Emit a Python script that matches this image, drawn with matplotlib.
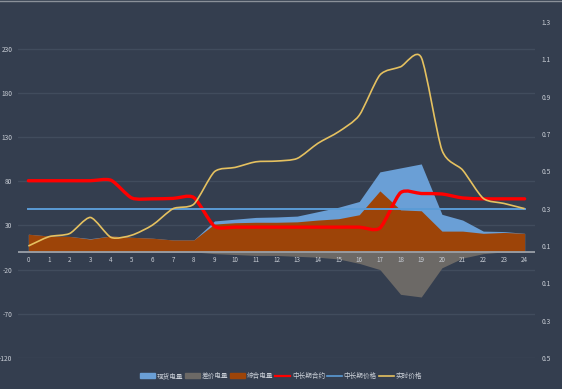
import matplotlib
matplotlib.use("Agg")
import matplotlib.pyplot as plt
from matplotlib.path import Path
from matplotlib.patches import PathPatch, Patch
from matplotlib.lines import Line2D
import numpy as np

plt.rcParams['font.family'] = ['Noto Sans CJK SC', 'DejaVu Sans']

# hourly data, 0..24
hours = list(range(25))
spot_qty = [20, 18, 17.5, 15, 18, 16.5, 15.5, 13.5, 13.5, 35, 37, 39, 39.5, 40.5, 45.5, 50.5,
            57, 90.5, 95, 99.5, 42.5, 36, 23.5, 23, 21]
diff_qty = [0, 0, 0, 0, 0, 0, 0, 0, 0, -2, -3, -4, -4, -5, -6, -8,
            -13, -20, -48, -51, -18, -7, -2, 0, 0]
total_qty = [20, 18, 17.5, 14.5, 18, 16.5, 15.5, 13.5, 13.5, 31.5, 33, 33.5, 33.5, 34, 36, 37.5,
             42, 69, 47.5, 46.5, 23.5, 23.5, 21, 22, 21]
contract_qty = [80.5, 80.5, 80.5, 80.5, 81, 61, 60, 60.5, 61.5, 29, 28, 28, 28, 28, 28, 28,
                28, 27, 67, 66, 65.5, 61, 60, 60, 60]
contract_price = [0.3] * 25
rt_price = [0.10, 0.15, 0.167, 0.253, 0.146, 0.158, 0.212, 0.30, 0.324, 0.498, 0.521, 0.551,
            0.555, 0.569, 0.65, 0.712, 0.80, 1.016, 1.06, 1.11, 0.614, 0.507, 0.355, 0.328, 0.30]

labels = ["现货电量", "差价电量", "综合电量", "中长期合约", "中长期价格", "实时价格"]
left_ticks = [-120, -70, -20, 30, 80, 130, 180, 230]
right_ticks = [-0.5, -0.3, -0.1, 0.1, 0.3, 0.5, 0.7, 0.9, 1.1, 1.3]

bg = '#343e4f'
grid_c = '#414c5d'
txt_c = '#c9ced6'
c_spot = '#6a9fd6'
c_diff = '#6c6966'
c_total = '#9d4408'
c_red = '#ff0000'
c_blue = '#5b9bd5'
c_yellow = '#e5c160'


# smooth line like excel (bezier through the points)
def smooth_path(x, y, k=0.12):
    pts = np.column_stack([x, y]).astype(float)
    n = len(pts)
    verts = [pts[0]]
    codes = [Path.MOVETO]
    for i in range(n - 1):
        p0 = pts[max(i - 1, 0)]
        p1 = pts[i]
        p2 = pts[i + 1]
        p3 = pts[min(i + 2, n - 1)]
        verts += [p1 + (p2 - p0) * k, p2 - (p3 - p1) * k, p2]
        codes += [Path.CURVE4] * 3
    return Path(verts, codes)


fig = plt.figure(figsize=(5.62, 3.89), dpi=100, facecolor=bg)
ax = fig.add_axes([18 / 562, 1 - 358 / 389, (535 - 18) / 562, (358 - 22) / 389])
ax.set_facecolor(bg)
ax2 = ax.twinx()

ax.fill_between(hours, 0, spot_qty, color=c_spot, lw=0, zorder=2)
ax.fill_between(hours, 0, diff_qty, color=c_diff, lw=0, zorder=2)
ax.fill_between(hours, 0, total_qty, color=c_total, lw=0, zorder=3)
ax.axhline(0, color='#9aa0a8', lw=1.3, zorder=4)
ax.add_patch(PathPatch(smooth_path(hours, contract_qty), fill=False, ec=c_red, lw=2.4,
                       capstyle='round', zorder=5))

ax2.plot(hours, contract_price, color=c_blue, lw=1.4, zorder=4)
ax2.add_patch(PathPatch(smooth_path(hours, rt_price), fill=False, ec=c_yellow, lw=1.2, zorder=5))

ax.set_xlim(-0.5, 24.5)
ax.set_ylim(-120, 260)
ax2.set_ylim(-0.5, 1.3)
ax.set_yticks(left_ticks)
ax.set_yticklabels([str(v) for v in left_ticks])
ax2.set_yticks(right_ticks)
ax2.set_yticklabels(['%.1f' % abs(v) for v in right_ticks])
ax.grid(axis='y', color=grid_c, lw=1.0)
ax.set_axisbelow(True)
ax.set_xticks([])

# hour labels sit just under the zero line
for h in hours:
    ax.text(h, -5, str(h), ha='center', va='top', fontsize=4.5, color=txt_c, zorder=6)

for a in (ax, ax2):
    for s in a.spines.values():
        s.set_visible(False)
    a.tick_params(length=0, labelsize=4.8, colors=txt_c)
ax.tick_params(axis='y', pad=4)
ax2.tick_params(axis='y', pad=5)

handles = [Patch(color=c_spot), Patch(color=c_diff), Patch(color=c_total),
           Line2D([], [], color=c_red, lw=1.6), Line2D([], [], color=c_blue, lw=1.2),
           Line2D([], [], color=c_yellow, lw=1.2)]
fig.legend(handles, labels, loc='center', bbox_to_anchor=(281 / 562, 1 - 376 / 389), ncol=6,
           frameon=False, fontsize=4.8, labelcolor=txt_c, handlelength=2.2, handleheight=0.8,
           handletextpad=0.3, columnspacing=0.3)

# thin frame line along the top edge
fig.add_artist(Line2D([0, 1], [0.998, 0.998], color='#8a9099', lw=1.0))

fig.savefig('out.png', dpi=100, facecolor=bg)
